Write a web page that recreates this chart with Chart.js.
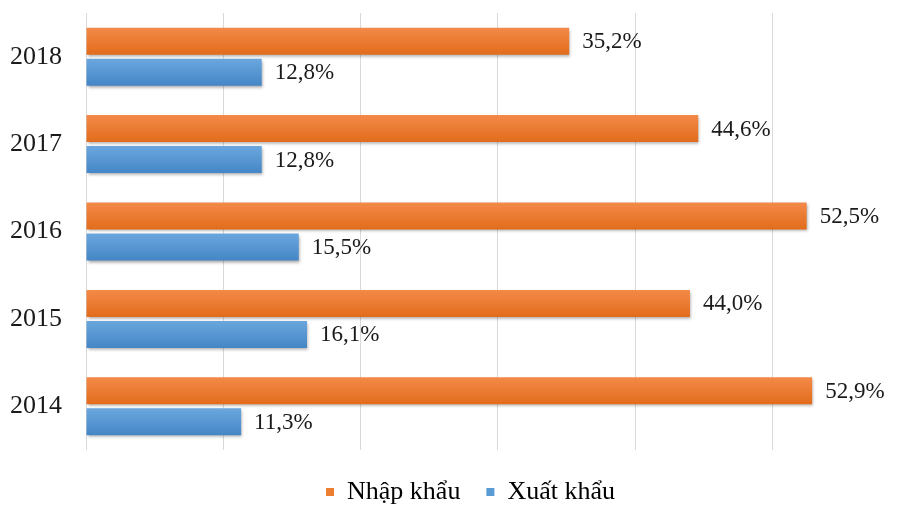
<!DOCTYPE html>
<html>
<head>
<meta charset="utf-8">
<title>Nhập khẩu / Xuất khẩu</title>
<script src="https://cdn.jsdelivr.net/npm/chart.js@4"></script>
<style>
    html, body { margin: 0; padding: 0; background: #fff; }
    #tradeChart { display: block; }
</style>
</head>
<body>
<canvas id="tradeChart" width="904" height="507"></canvas>
<script>
// Dữ liệu theo năm (%)
const years = ['2018', '2017', '2016', '2015', '2014'];
const nhapKhau = [35.2, 44.6, 52.5, 44.0, 52.9];
const xuatKhau = [12.8, 12.8, 15.5, 16.1, 11.3];
const gridValues = [0, 10, 20, 30, 40, 50];

const SERIF = '"Liberation Serif", "Times New Roman", serif';

// Gradient dọc cho từng thanh (sáng ở trên, đậm ở dưới)
function barFill(top, bottom) {
    return (c) => {
        const el = c.element;
        if (!el || el.y == null || !el.height) return bottom;
        const g = c.chart.ctx.createLinearGradient(0, el.y - el.height / 2, 0, el.y + el.height / 2);
        g.addColorStop(0, top);
        g.addColorStop(1, bottom);
        return g;
    };
}

// Bóng đổ nhẹ dưới các thanh
const barShadow = {
    id: 'barShadow',
    beforeDatasetsDraw(chart) {
        const ctx = chart.ctx;
        ctx.save();
        ctx.shadowColor = 'rgba(0, 0, 0, 0.35)';
        ctx.shadowBlur = 3;
        ctx.shadowOffsetX = 1;
        ctx.shadowOffsetY = 2;
    },
    afterDatasetsDraw(chart) {
        chart.ctx.restore();
    }
};

// Nhãn giá trị ở cuối mỗi thanh, dạng "35,2%"
const valueLabels = {
    id: 'valueLabels',
    afterDatasetsDraw(chart) {
        const ctx = chart.ctx;
        ctx.save();
        ctx.font = '23px ' + SERIF;
        ctx.fillStyle = '#1a1a1a';
        ctx.textBaseline = 'middle';
        ctx.textAlign = 'left';
        chart.data.datasets.forEach((ds, i) => {
            chart.getDatasetMeta(i).data.forEach((bar, j) => {
                const text = ds.data[j].toFixed(1).replace('.', ',') + '%';
                ctx.fillText(text, bar.x + 13, bar.y + 1);
            });
        });
        ctx.restore();
    }
};

// Chú giải hơi lệch sang phải và xuống dưới
const legendShift = {
    id: 'legendShift',
    afterLayout(chart) {
        if (!chart.legend) return;
        chart.legend.left += 31;
        chart.legend.top += 3;
    }
};

const chart = new Chart(document.getElementById('tradeChart'), {
    type: 'bar',
    data: {
        labels: years,
        datasets: [
            {
                label: 'Nhập khẩu',
                data: nhapKhau,
                backgroundColor: barFill('#f38a48', '#e26c1c'),
                categoryPercentage: 0.71,
                barPercentage: 0.87
            },
            {
                label: 'Xuất khẩu',
                data: xuatKhau,
                backgroundColor: barFill('#6ba7de', '#4486c6'),
                categoryPercentage: 0.71,
                barPercentage: 0.87
            }
        ]
    },
    options: {
        indexAxis: 'y',
        responsive: false,
        animation: false,
        layout: {
            padding: { top: 13, left: 10, right: 4, bottom: 0 }
        },
        plugins: {
            tooltip: { enabled: false },
            legend: {
                position: 'bottom',
                maxHeight: 57,
                labels: {
                    boxWidth: 8,
                    boxHeight: 8,
                    padding: 26,
                    color: '#1a1a1a',
                    font: { family: SERIF, size: 26 },
                    generateLabels(chart) {
                        return chart.data.datasets.map((ds, i) => ({
                            text: ds.label,
                            fillStyle: i === 0 ? '#ed7d31' : '#5b9bd5',
                            strokeStyle: 'transparent',
                            lineWidth: 0,
                            datasetIndex: i
                        }));
                    }
                }
            }
        },
        scales: {
            x: {
                min: 0,
                max: 59.3,
                afterBuildTicks(scale) {
                    scale.ticks = gridValues.map(v => ({ value: v }));
                },
                afterFit(scale) {
                    scale.height = 0;
                    scale.paddingLeft = 0;
                    scale.paddingRight = 0;
                },
                ticks: { display: false },
                grid: { color: '#d9d9d9', drawTicks: false },
                border: { display: false }
            },
            y: {
                afterFit(scale) {
                    scale.width = 76;
                    scale.paddingTop = 0;
                    scale.paddingBottom = 0;
                },
                ticks: {
                    color: '#1a1a1a',
                    padding: 24,
                    font: { family: SERIF, size: 26 }
                },
                grid: { display: false, drawTicks: false },
                border: { display: false }
            }
        }
    },
    plugins: [barShadow, valueLabels, legendShift]
});

// Vẽ lại để gradient lấy được toạ độ của từng thanh
chart.update('none');
</script>
</body>
</html>
